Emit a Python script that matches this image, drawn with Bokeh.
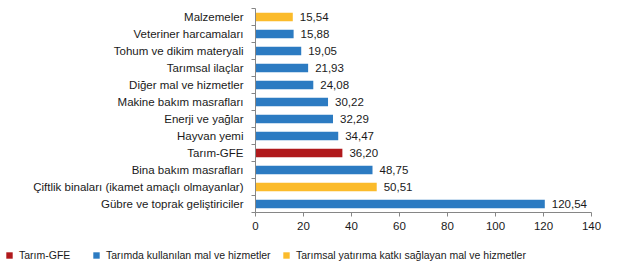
from bokeh.plotting import figure
from bokeh.layouts import column, row
from bokeh.models import ColumnDataSource, FixedTicker, Legend, LegendItem, Range1d
from bokeh.core.properties import value
from bokeh.embed import file_html
from bokeh.resources import INLINE

categories = [
    "Malzemeler",
    "Veteriner harcamaları",
    "Tohum ve dikim materyali",
    "Tarımsal ilaçlar",
    "Diğer mal ve hizmetler",
    "Makine bakım masrafları",
    "Enerji ve yağlar",
    "Hayvan yemi",
    "Tarım-GFE",
    "Bina bakım masrafları",
    "Çiftlik binaları (ikamet amaçlı olmayanlar)",
    "Gübre ve toprak geliştiriciler",
]
values = [15.54, 15.88, 19.05, 21.93, 24.08, 30.22, 32.29, 34.47, 36.20, 48.75, 50.51, 120.54]
groups = [2, 1, 1, 1, 1, 1, 1, 1, 0, 1, 2, 1]
group_names = [
    "Tarım-GFE",
    "Tarımda kullanılan mal ve hizmetler",
    "Tarımsal yatırıma katkı sağlayan mal ve hizmetler",
]
group_colors = ["#b0191c", "#2c7bc2", "#fbbb2b"]
x_ticks = [0, 20, 40, 60, 80, 100, 120, 140]

FONT = "Liberation Sans"
n = len(categories)
ypos = [n - 1 - i for i in range(n)]

p = figure(
    width=623, height=240, output_backend="svg", toolbar_location=None,
    x_range=Range1d(0, 140), y_range=Range1d(-0.5, n - 0.5),
    min_border_left=255, min_border_right=32, min_border_top=8, min_border_bottom=28,
)
p.outline_line_color = None
p.xgrid.visible = False
p.ygrid.visible = False

sources = []
for g in range(3):
    idx = [i for i in range(n) if groups[i] == g]
    src = ColumnDataSource(dict(y=[ypos[i] for i in idx], v=[values[i] for i in idx]))
    sources.append(src)
    p.hbar(y="y", right="v", left=0, height=0.5, source=src,
           fill_color=group_colors[g], line_color=None)

lab = ColumnDataSource(dict(
    x=values, y=ypos, t=[f"{v:.2f}".replace(".", ",") for v in values]))
p.text(x="x", y="y", text="t", source=lab, x_offset=7, text_baseline="middle",
       text_align="left", text_font=value(FONT), text_font_size="11.5px",
       text_color="#1a1a1a")

# y axis
yax = p.yaxis[0]
yax.ticker = FixedTicker(ticks=ypos, minor_ticks=[k - 0.5 for k in range(n + 1)])
yax.major_label_overrides = {ypos[i]: categories[i] for i in range(n)}
yax.major_tick_out = 0
yax.major_tick_in = 0
yax.minor_tick_out = 4
yax.minor_tick_in = 0
yax.axis_line_color = "#868686"
yax.minor_tick_line_color = "#868686"
yax.major_label_text_font = FONT
yax.major_label_text_font_size = "11.5px"
yax.major_label_text_color = "#1a1a1a"
yax.major_label_standoff = 8

xax = p.xaxis[0]
xax.ticker = FixedTicker(ticks=x_ticks, minor_ticks=[])
xax.major_tick_out = 4
xax.major_tick_in = 0
xax.axis_line_color = "#868686"
xax.major_tick_line_color = "#868686"
xax.major_label_text_font = FONT
xax.major_label_text_font_size = "11.5px"
xax.major_label_text_color = "#1a1a1a"
xax.major_label_standoff = 5

# legend strip: a second figure holding only the legend
lf = figure(
    width=623, height=32, output_backend="svg", toolbar_location=None,
    x_range=Range1d(0, 140), y_range=Range1d(-0.5, n - 0.5),
    x_axis_location=None, y_axis_location=None,
    min_border_left=0, min_border_right=0, min_border_top=0, min_border_bottom=0,
)
lf.grid.visible = False
lf.outline_line_color = None
legend_x = [5, 92, 282]
for g in range(3):
    r = lf.hbar(y="y", right="v", left=0, height=0.5, source=sources[g],
                fill_color=group_colors[g], line_color=None, visible=False)
    lg = Legend(
        items=[LegendItem(label=group_names[g], renderers=[r])],
        location=(legend_x[g], 11),
        glyph_width=8, glyph_height=8, label_standoff=6,
        label_text_font=FONT, label_text_font_size="10.5px", label_text_color="#1a1a1a",
        border_line_color=None, background_fill_alpha=0, padding=0, margin=0,
        label_height=10,
    )
    lf.add_layout(lg, "center")

layout = column(p, row(lf, spacing=0), spacing=0)
open("out.html", "w").write(file_html(layout, INLINE))
